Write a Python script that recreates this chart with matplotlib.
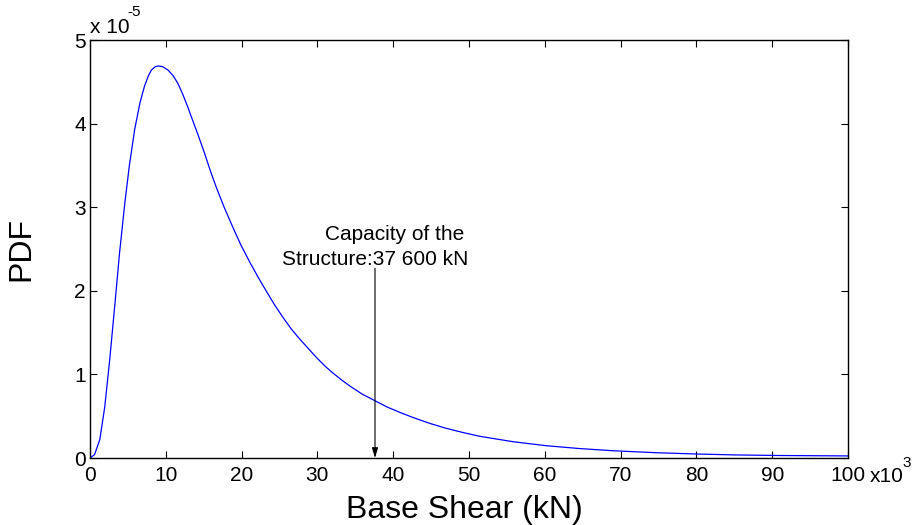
import matplotlib
matplotlib.use("Agg")
import matplotlib.pyplot as plt

plt.rcParams["font.family"] = ["Liberation Sans", "DejaVu Sans"]

# base shear (x10^3 kN) and PDF (x10^-5)
shear = [0, 0.6, 1.3, 1.95, 2.6, 3.3, 3.9, 4.6, 5.2, 5.9, 6.6, 7.2, 7.7, 8.1,
         8.6, 9.0, 9.6, 10.3, 11.0, 11.6, 12.2, 12.9, 13.5, 14.2, 15.1, 15.9,
         16.7, 17.7, 18.8, 19.9, 21.1, 22.2, 23.3, 24.3, 25.4, 26.5, 27.7,
         28.8, 29.9, 31.0, 32.0, 33.1, 34.3, 35.9, 37.6, 39.2, 40.9, 42.6,
         44.8, 47.0, 49.2, 51.4, 55.8, 60.2, 64.6, 69.0, 74.5, 80.0, 85.0,
         91.0, 100]
pdf = [0, 0.04, 0.22, 0.61, 1.17, 1.85, 2.45, 3.05, 3.5, 3.93, 4.25, 4.45,
       4.57, 4.64, 4.68, 4.69, 4.68, 4.64, 4.57, 4.48, 4.36, 4.20, 4.05,
       3.88, 3.65, 3.43, 3.23, 3.00, 2.77, 2.55, 2.34, 2.16, 1.99, 1.84,
       1.69, 1.55, 1.42, 1.31, 1.20, 1.10, 1.02, 0.94, 0.86, 0.765, 0.685,
       0.61, 0.545, 0.485, 0.415, 0.355, 0.305, 0.26, 0.195, 0.147, 0.113,
       0.087, 0.064, 0.048, 0.037, 0.03, 0.025]

capacity = 37.6
cap_line1 = "Capacity of the"
cap_line2 = "Structure:37 600 kN"
xticks = [0, 10, 20, 30, 40, 50, 60, 70, 80, 90, 100]
yticks = [0, 1, 2, 3, 4, 5]

fig = plt.figure(figsize=(9.17, 5.25), dpi=100)
ax = fig.add_axes([0.0981, 0.1276, 0.8267, 0.7962])

ax.plot(shear, pdf, color="#0000ff", lw=0.9)

ax.annotate("", xy=(capacity, 0), xytext=(capacity, 2.27),
            arrowprops=dict(arrowstyle="-|>,head_length=0.6,head_width=0.18",
                            color="black", lw=0.8, shrinkA=0, shrinkB=0))
ax.text(40.2, 2.61, cap_line1, ha="center", va="baseline", fontsize=15)
ax.text(capacity, 2.31, cap_line2, ha="center", va="baseline", fontsize=15)

ax.set_xlim(0, 100)
ax.set_ylim(0, 5)
ax.set_xticks(xticks)
ax.set_yticks(yticks)
ax.tick_params(direction="in", top=True, right=True, length=5, width=0.8,
               labelsize=15)
ax.tick_params(axis="x", pad=6)
ax.tick_params(axis="y", pad=3)
for sp in ax.spines.values():
    sp.set_linewidth(1.0)

ax.set_xlabel("Base Shear (kN)", fontsize=23)
ax.set_ylabel("PDF", fontsize=23)
ax.xaxis.set_label_coords(0.494, -0.088)
ax.yaxis.set_label_coords(-0.071, 0.5)

# axis multipliers, drawn MATLAB style
ax.text(0.0, 1.008, "x 10", transform=ax.transAxes, ha="left",
        va="bottom", fontsize=15)
ax.text(0.05, 1.05, "-5", transform=ax.transAxes, ha="left",
        va="bottom", fontsize=11)
ax.text(1.028, -0.058, "x10", transform=ax.transAxes, ha="left",
        va="baseline", fontsize=15)
ax.text(1.072, -0.022, "3", transform=ax.transAxes, ha="left",
        va="baseline", fontsize=11)

fig.savefig("out.png", dpi=100)
